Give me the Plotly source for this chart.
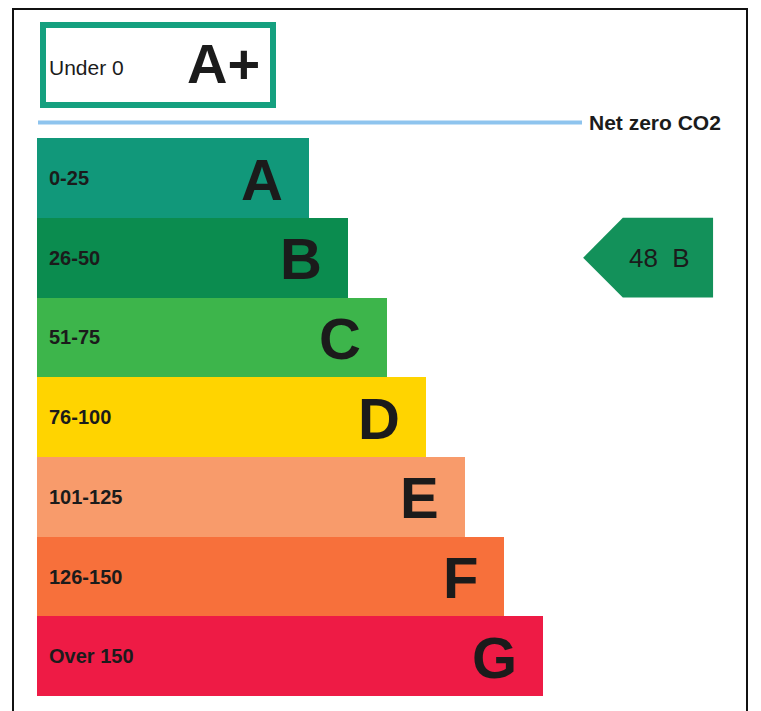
import plotly.graph_objects as go

# ---- data ----
bands = ["A", "B", "C", "D", "E", "F", "G"]
band_ranges = ["0-25", "26-50", "51-75", "76-100", "101-125", "126-150", "Over 150"]
bar_lengths = [7, 8, 9, 10, 11, 12, 13]
band_colors = ["#11987a", "#0b8c4f", "#3db54b", "#ffd400", "#f89b6b", "#f7703b", "#ee1b45"]
top_range = "Under 0"
top_band = "A+"
net_zero_label = "Net zero CO2"
current_score = 48
current_band = "B"

# ---- figure geometry helpers (page pixel -> paper); page body adds an 8px margin ----
W, H = 761, 711
OFF = 8
def px(x):
    return (x - OFF) / W
def py(y):
    return 1 - (y - OFF) / H

SANS = "Liberation Sans, Arial, sans-serif"
INK = "#1b1b1b"

ypos = list(range(len(bands)))

fig = go.Figure()
fig.add_trace(go.Bar(
    y=ypos, x=bar_lengths, orientation="h", base=0, width=1,
    marker=dict(color=band_colors, line=dict(width=0)),
    hoverinfo="skip", showlegend=False,
))

annotations = []
for i, (b, r, L) in enumerate(zip(bands, band_ranges, bar_lengths)):
    annotations.append(dict(x=0, y=i, xref="x", yref="y", text="<b>" + r + "</b>", showarrow=False,
                            xanchor="left", yanchor="middle", xshift=10, yshift=0,
                            font=dict(family=SANS, size=20, color=INK)))
    annotations.append(dict(x=L, y=i, xref="x", yref="y", text="<b>" + b + "</b>", showarrow=False,
                            xanchor="right", yanchor="middle", xshift=-24, yshift=-1,
                            font=dict(family=SANS, size=58, color=INK)))

# current rating arrow (row of current band)
ci = bands.index(current_band)
tip, shoulder, right = 14.04, 15.06, 17.38
arrow_path = (f"M {tip},{ci} L {shoulder},{ci-0.5} L {right},{ci-0.5} "
              f"L {right},{ci+0.5} L {shoulder},{ci+0.5} Z")
shapes = [
    dict(type="path", path=arrow_path, xref="x", yref="y",
         fillcolor="#13915a", line=dict(width=0)),
    # frame
    dict(type="rect", xref="paper", yref="paper", x0=px(13), x1=px(747), y0=py(9), y1=py(740),
         line=dict(color="#111111", width=2), fillcolor="rgba(0,0,0,0)"),
    # A+ box
    dict(type="rect", xref="paper", yref="paper", x0=px(43), x1=px(273), y0=py(25), y1=py(105),
         line=dict(color="#15a07f", width=6), fillcolor="white"),
    # net zero line
    dict(type="line", xref="paper", yref="paper", x0=px(38), x1=px(582), y0=py(122.5), y1=py(122.5),
         line=dict(color="#8ec4ee", width=4)),
]
annotations.append(dict(x=right, y=ci, xref="x", yref="y", text=f"{current_score}  {current_band}",
                        showarrow=False, xanchor="right", yanchor="middle", xshift=-21,
                        font=dict(family=SANS, size=26, color=INK)))
annotations.append(dict(x=px(47), y=py(67), xref="paper", yref="paper", text=top_range,
                        showarrow=False, xanchor="left", yanchor="middle",
                        font=dict(family=SANS, size=21, color=INK)))
annotations.append(dict(x=px(223), y=py(63), xref="paper", yref="paper", text="<b>" + top_band + "</b>",
                        showarrow=False, xanchor="center", yanchor="middle",
                        font=dict(family=SANS, size=56, color=INK)))
annotations.append(dict(x=px(587), y=py(122), xref="paper", yref="paper", text="<b>" + net_zero_label + "</b>",
                        showarrow=False, xanchor="left", yanchor="middle",
                        font=dict(family=SANS, size=21, color=INK)))

# axis ranges: 38.9 px per unit on x with bars starting at page x=37px; 79.7 px per row, first row centred at page y=178px
xu, x0px = 38.9, 37.0 - OFF
yu, y0px = 79.7, 178.0 - OFF
fig.update_layout(
    width=W, height=H, autosize=False,
    margin=dict(l=0, r=0, t=0, b=0, pad=0),
    paper_bgcolor="white", plot_bgcolor="white",
    xaxis=dict(range=[-x0px / xu, (W - x0px) / xu], visible=False, fixedrange=True),
    yaxis=dict(range=[(H - y0px) / yu, -y0px / yu], visible=False, fixedrange=True),
    shapes=shapes, annotations=annotations, bargap=0, showlegend=False,
)
fig.write_html("out.html")
